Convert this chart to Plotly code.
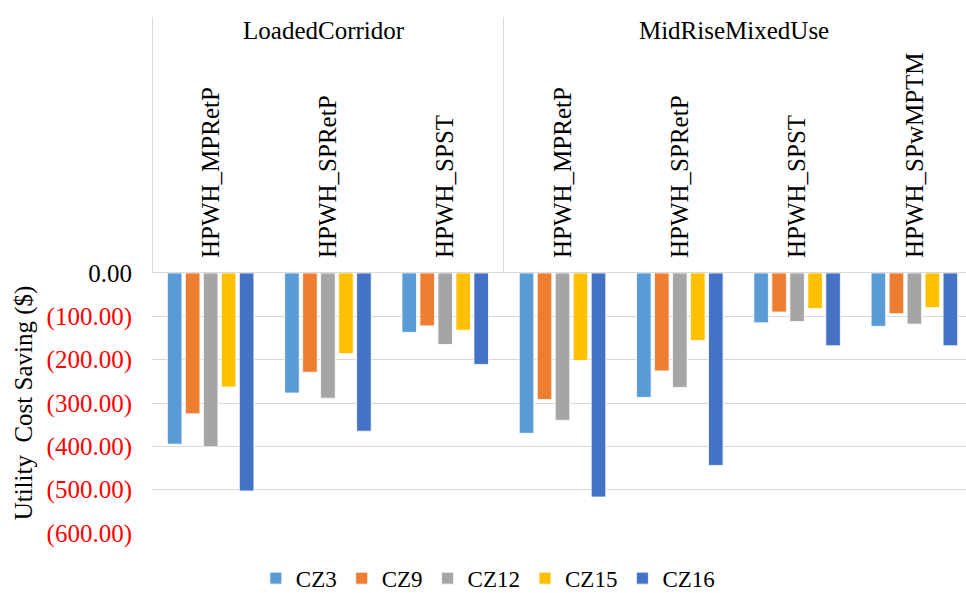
import plotly.graph_objects as go

# Building types (outer level) and measures (inner level)
buildings = ["LoadedCorridor", "LoadedCorridor", "LoadedCorridor",
             "MidRiseMixedUse", "MidRiseMixedUse", "MidRiseMixedUse", "MidRiseMixedUse"]
measures = ["HPWH_MPRetP", "HPWH_SPRetP", "HPWH_SPST",
            "HPWH_MPRetP", "HPWH_SPRetP", "HPWH_SPST", "HPWH_SPwMPTM"]

# Utility cost saving ($) by climate zone
cz3 = [-395, -277, -137, -370, -287, -115, -123]
cz9 = [-325, -229, -122, -292, -226, -90, -94]
cz12 = [-401, -289, -165, -340, -264, -112, -118]
cz15 = [-263, -186, -132, -202, -156, -82, -80]
cz16 = [-503, -365, -211, -517, -444, -168, -168]

series = [("CZ3", cz3, "#5B9BD5"), ("CZ9", cz9, "#ED7D31"), ("CZ12", cz12, "#A5A5A5"),
          ("CZ15", cz15, "#FFC000"), ("CZ16", cz16, "#4472C4")]

y_ticks = [0, -100, -200, -300, -400, -500, -600]


def money(v):
    if v < 0:
        return "<span style='color:#FF0000'>(%.2f)</span>" % abs(v)
    return "%.2f" % v


FONT = "Liberation Serif"
FS = 25

fig = go.Figure()
for name, vals, color in series:
    fig.add_trace(go.Bar(
        x=[buildings, measures], y=vals, name=name,
        marker=dict(color=color, line=dict(color="white", width=0.8)),
    ))

fig.update_layout(
    width=966, height=593,
    margin=dict(l=152, r=0, t=273, b=60),
    paper_bgcolor="white", plot_bgcolor="white",
    font=dict(family=FONT, size=FS, color="black"),
    barmode="group", bargap=0.233, bargroupgap=0.19,
    showlegend=True,
    legend=dict(orientation="h", xref="container", yref="container",
                x=0.505, xanchor="center", y=0.025, yanchor="middle",
                font=dict(family=FONT, size=23), itemwidth=30, traceorder="normal"),
)

fig.update_xaxes(
    type="multicategory", side="top",
    range=[-0.5, 6.44],
    tickangle=-90,
    showline=True, linecolor="#D9D9D9", linewidth=1,
    showgrid=False, ticks="",
    showdividers=True, dividercolor="#D9D9D9", dividerwidth=1,
    ticklabelstandoff=9,
    tickfont=dict(family=FONT, size=FS, color="black"),
)

fig.update_yaxes(
    range=[-600, 0],
    tickvals=y_ticks, ticktext=[money(v) for v in y_ticks],
    showgrid=True, gridcolor="#D9D9D9", gridwidth=1,
    zeroline=False, showline=False, ticks="",
    ticklabelstandoff=19,
    tickfont=dict(family=FONT, size=FS, color="black"),
    title=dict(text="Utility  Cost Saving ($)", font=dict(family=FONT, size=FS), standoff=6),
)

fig.write_html("out.html")
